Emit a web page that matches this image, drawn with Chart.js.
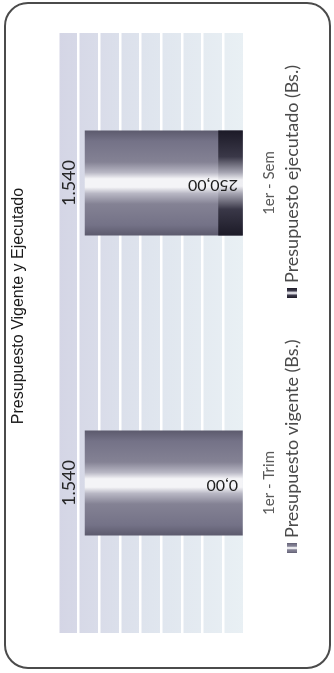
<!DOCTYPE html>
<html><head><meta charset="utf-8">
<script src="https://cdn.jsdelivr.net/npm/chart.js@4.4.1/dist/chart.umd.min.js"></script>
<style>
html,body{margin:0;padding:0;background:#fff;width:334px;height:673px;overflow:hidden;}
#frame{position:absolute;left:4px;top:2px;width:323px;height:663px;border:2px solid #4b4b4b;border-radius:24px;}
#rot{position:absolute;left:0;top:0;width:673px;height:334px;transform-origin:0 0;transform:translate(0,673px) rotate(-90deg);}
canvas{display:block}
</style></head><body>
<div id="frame"></div>
<div id="rot"><canvas id="c" width="673" height="334"></canvas></div>
<script>
const categories = ['1er - Trim', '1er - Sem'];
const vigente = [1540, 1540];
const ejecutado = [0, 250];
const seriesNames = ['Presupuesto vigente (Bs.)', 'Presupuesto ejecutado (Bs.)'];
const chartTitle = 'Presupuesto Vigente y Ejecutado';
const valueMax = 1800;
const valueStep = 200;

const BAR_PCT = 0.35;
const vigStops = [[0,'#5c5a6d'],[0.1,'#747287'],[0.3,'#848294'],[0.4,'#b8b7c4'],[0.46,'#f4f4f7'],[0.54,'#f4f4f7'],[0.6,'#b8b7c4'],[0.7,'#848294'],[0.9,'#747287'],[1,'#5c5a6d']];
const ejeStops = [[0,'#1c1a27'],[0.25,'#3a3848'],[0.4,'#a6a5b2'],[0.47,'#eeeef2'],[0.53,'#eeeef2'],[0.6,'#a6a5b2'],[0.75,'#3a3848'],[1,'#1c1a27']];

function fmtThousands(v){ return String(Math.round(v)).replace(/\B(?=(\d{3})+(?!\d))/g,'.'); }
function fmtDec(v){ const p = v.toFixed(2).split('.'); return fmtThousands(+p[0]) + ',' + p[1]; }

function makeGrad(ctx, x0, x1, stops){
  const g = ctx.createLinearGradient(x0, 0, x1, 0);
  stops.forEach(s => g.addColorStop(s[0], s[1]));
  return g;
}
function barFill(stops, fallback){
  return function(c){
    const chart = c.chart;
    const xs = chart.scales && chart.scales.x;
    if (!xs || c.dataIndex === undefined) return fallback;
    const x = xs.getPixelForValue(c.dataIndex);
    const w = xs.width / categories.length * BAR_PCT;
    if (!isFinite(x) || !isFinite(w) || w <= 0) return fallback;
    return makeGrad(chart.ctx, x - w/2, x + w/2, stops);
  };
}

const decor = {
  id: 'decor',
  beforeDraw(chart){
    const {ctx, chartArea: a} = chart;
    const g = ctx.createLinearGradient(0, a.top, 0, a.bottom);
    g.addColorStop(0, '#d4d5e5');
    g.addColorStop(0.5, '#dfe5ee');
    g.addColorStop(1, '#e9f0f4');
    ctx.save();
    ctx.fillStyle = g;
    ctx.fillRect(a.left, a.top, a.right - a.left, a.bottom - a.top);
    ctx.restore();
  },
  afterDraw(chart){
    const ctx = chart.ctx;
    const ys = chart.scales.y;
    const base = ys.getPixelForValue(0);
    ctx.save();
    // title
    ctx.fillStyle = '#1a1a1a';
    ctx.font = '16px "Liberation Sans", Arial, sans-serif';
    ctx.textAlign = 'center';
    ctx.textBaseline = 'alphabetic';
    ctx.fillText(chartTitle, 367, 23);
    // data labels
    const mv = chart.getDatasetMeta(1);
    mv.data.forEach((el, i) => {
      ctx.fillStyle = '#262626';
      ctx.font = '18px Lato, sans-serif';
      ctx.textAlign = 'center';
      ctx.textBaseline = 'alphabetic';
      ctx.fillText(fmtThousands(vigente[i]), el.x, el.y - 10);
    });
    const me = chart.getDatasetMeta(0);
    me.data.forEach((el, i) => {
      ctx.save();
      ctx.translate(el.x - 2, base - 6);
      ctx.rotate(-Math.PI/2);
      ctx.fillStyle = '#1e1e1e';
      ctx.font = '16px Lato, sans-serif';
      ctx.textAlign = 'left';
      ctx.textBaseline = 'middle';
      ctx.fillText(fmtDec(ejecutado[i]), 0, 0);
      ctx.restore();
    });
    // legend
    const items = [[120, vigStops, seriesNames[0]], [375, ejeStops, seriesNames[1]]];
    items.forEach(it => {
      const x0 = it[0], ym = 292;
      ctx.fillStyle = makeGrad(ctx, x0, x0 + 10, it[1]);
      ctx.fillRect(x0, ym - 5, 10, 10);
      ctx.fillStyle = '#4a4a4a';
      ctx.font = '18px Lato, sans-serif';
      ctx.textAlign = 'left';
      ctx.textBaseline = 'middle';
      ctx.fillText(it[2], x0 + 15, ym);
    });
    ctx.restore();
  }
};

new Chart(document.getElementById('c'), {
  type: 'bar',
  data: {
    labels: categories,
    datasets: [
      { label: seriesNames[1], data: ejecutado, backgroundColor: barFill(ejeStops, '#2a2838'), grouped: false, barPercentage: BAR_PCT, categoryPercentage: 1, borderWidth: 0 },
      { label: seriesNames[0], data: vigente, backgroundColor: barFill(vigStops, '#858395'), grouped: false, barPercentage: BAR_PCT, categoryPercentage: 1, borderWidth: 0 }
    ]
  },
  options: {
    responsive: false,
    animation: false,
    devicePixelRatio: 1,
    layout: { padding: { left: 40, right: 33, top: 58, bottom: 40 } },
    plugins: { legend: { display: false }, title: { display: false }, tooltip: { enabled: false } },
    scales: {
      x: {
        grid: { display: false, drawTicks: false },
        border: { display: false },
        ticks: { padding: 16, color: '#5a5a5a', font: { family: 'Lato', size: 15 } }
      },
      y: {
        min: 0, max: valueMax,
        ticks: { display: false, stepSize: valueStep },
        grid: { color: '#ffffff', lineWidth: 2.5, drawTicks: false },
        border: { display: false }
      }
    }
  },
  plugins: [decor]
});
</script>
</body></html>
